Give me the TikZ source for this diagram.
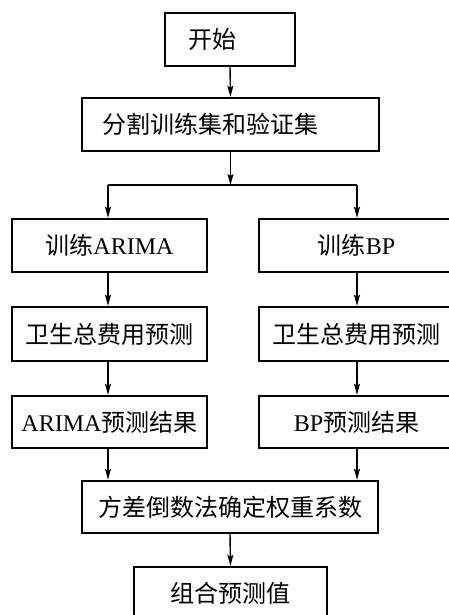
\documentclass[tikz,border=0pt]{standalone}
\usepackage{fontspec}
\setmainfont{Liberation Serif}
\newfontfamily\cjk{Noto Sans CJK SC}
\usetikzlibrary{arrows.meta}
\begin{document}
\begin{tikzpicture}[x=1pt,y=-1pt,
  txt/.style={font=\fontsize{24}{28}\selectfont, text=black},
  box/.style={draw=black, line width=2.4pt, rectangle, inner sep=0pt, txt},
  arr/.style={line width=1.4pt, -{Stealth[length=11pt,width=6pt,inset=2pt]}},
  ln/.style={line width=1.4pt}]
\useasboundingbox (0,0) rectangle (449,615);
\clip (0,0) rectangle (449,615);
\fill[white] (0,0) rectangle (449,615);
\node[box, minimum width=130pt, minimum height=53pt,
  label={[txt, xshift=-18pt]center:{\cjk 开始}}] (start) at (230,39.5) {};
\node[box, minimum width=297pt, minimum height=53pt,
  label={[txt, xshift=-20pt]center:{\cjk 分割训练集和验证集}}] (split) at (230.5,124.5) {};
\coordinate (fork) at (230.5,185);
\coordinate (forkL) at (108,185);
\coordinate (forkR) at (357,185);
\node[box, minimum width=195pt, minimum height=53pt] (trA) at (109.5,245.5) {{\cjk 训练}ARIMA};
\node[box, minimum width=195pt, minimum height=53pt] (trB) at (356.5,245.5) {{\cjk 训练}BP};
\node[box, minimum width=195pt, minimum height=54pt] (pdA) at (109.5,334) {\cjk 卫生总费用预测};
\node[box, minimum width=195pt, minimum height=54pt] (pdB) at (356.5,334) {\cjk 卫生总费用预测};
\node[box, minimum width=195pt, minimum height=52pt] (rsA) at (109.5,422) {ARIMA{\cjk 预测结果}};
\node[box, minimum width=195pt, minimum height=52pt] (rsB) at (356.5,422) {BP{\cjk 预测结果}};
\node[box, minimum width=296pt, minimum height=52pt] (var) at (230,507) {\cjk 方差倒数法确定权重系数};
\node[box, minimum width=193pt, minimum height=53pt] (comb) at (230.5,593.5) {\cjk 组合预测值};
\draw[arr] (start.south) -- (split.north);
\draw[arr] (split.south) -- (fork);
\draw[ln] (forkL) -- (forkR);
\draw[arr] (forkL) -- (forkL |- trA.north);
\draw[arr] (forkR) -- (forkR |- trB.north);
\draw[arr] (trA.south -| forkL) -- (forkL |- pdA.north);
\draw[arr] (trB.south -| forkR) -- (forkR |- pdB.north);
\draw[arr] (pdA.south -| forkL) -- (forkL |- rsA.north);
\draw[arr] (pdB.south -| forkR) -- (forkR |- rsB.north);
\draw[arr] (rsA.south -| forkL) -- (forkL |- var.north);
\draw[arr] (rsB.south -| forkR) -- (forkR |- var.north);
\draw[arr] (var.south) -- (comb.north);
\end{tikzpicture}
\end{document}
